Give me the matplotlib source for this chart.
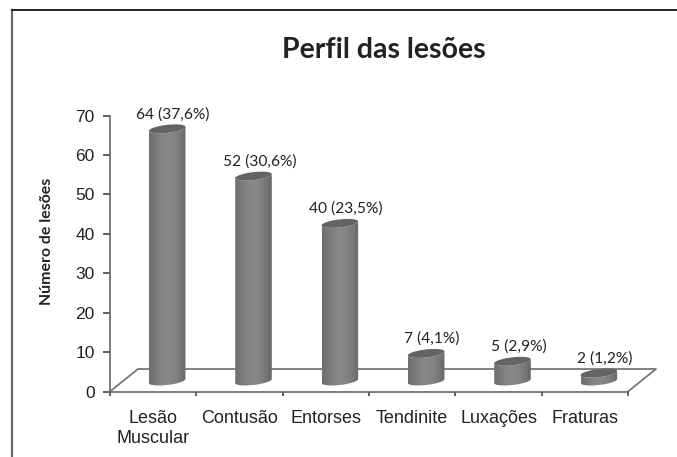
#!/usr/bin/env python
# -*- coding: utf-8 -*-

import numpy as np
import matplotlib
matplotlib.use('Agg')
import matplotlib.pyplot as plt
from matplotlib.patches import Polygon
from matplotlib.lines import Line2D

categorias = ['Lesão\nMuscular', 'Contusão', 'Entorses', 'Tendinite', 'Luxações', 'Fraturas']
lesoes = [64, 52, 40, 7, 5, 2]
rotulos = ['64 (37,6%)', '52 (30,6%)', '40 (23,5%)', '7 (4,1%)', '5 (2,9%)', '2 (1,2%)']
y_ticks = [0, 10, 20, 30, 40, 50, 60, 70]

W, H = 677, 457
fig = plt.figure(figsize=(W / 100, H / 100), dpi=100)
ax = fig.add_axes([110 / W, 1 - 391.5 / H, 518 / W, 275.8 / H])
ax.set_xlim(0, 6)
ax.set_ylim(0, 70)

# tamanho de um pixel em unidades de dados
px = 6 / 518
py = 70 / 275.8

# moldura da figura
fig.add_artist(Line2D([12 / W, 12 / W], [0, 1 - 10 / H], color='#666666', lw=1.6))
fig.add_artist(Line2D([12 / W, 1], [1 - 10 / H, 1 - 10 / H], color='#222222', lw=1.4))

# eixos
for s in ['top', 'right']:
    ax.spines[s].set_visible(False)
for s in ['left', 'bottom']:
    ax.spines[s].set_color('#666666')
    ax.spines[s].set_linewidth(1.2)
ax.set_yticks(y_ticks)
ax.set_xticks(range(7))
ax.set_xticklabels([])
ax.tick_params(axis='x', direction='out', length=3, width=1.2, color='#444444')
ax.tick_params(axis='y', direction='out', length=5, width=1.2, color='#444444',
               labelsize=12.5, labelcolor='#222222', pad=6)
for lab in ax.get_yticklabels():
    lab.set_family('Liberation Sans')

# piso em perspectiva
dx, dy = 28 * px, 22.5 * py
ax.plot([0, dx, 6 + dx, 6], [0, dy, dy, 0], color='#777777', lw=1.3, clip_on=False, zorder=1)

# cilindros
largura = 18.3 * px
alt = 4.0 * py
incl = 2.0 * py
base = 10.5 * py
t = np.linspace(0, 2 * np.pi, 120)
gradiente = np.array([[0.44, 0.47, 0.50, 0.52, 0.53, 0.52, 0.50, 0.47, 0.42]])

for i, v in enumerate(lesoes):
    cx = i + 0.5 + 14 * px
    y0 = base
    y1 = base + v * 3.94 * py
    # corpo: lado esquerdo, topo de frente, direita, base
    tt = np.linspace(np.pi, 2 * np.pi, 60)
    xb = cx + largura * np.cos(tt)
    yb = y0 + alt * np.sin(tt) + incl * np.cos(tt)
    xt = xb[::-1]
    yt = y1 + alt * np.sin(tt[::-1]) + incl * np.cos(tt[::-1])
    corpo = Polygon(np.column_stack([np.r_[xb, xt], np.r_[yb, yt]]), closed=True,
                    facecolor='none', edgecolor='none', zorder=3, clip_on=False)
    ax.add_patch(corpo)
    im = ax.imshow(gradiente, extent=[cx - largura, cx + largura, y0 - alt - incl, y1 + alt + incl],
                   cmap='gray', vmin=0, vmax=1, aspect='auto', interpolation='bilinear',
                   zorder=3, clip_on=True)
    im.set_clip_path(corpo)
    # tampa
    ax.add_patch(Polygon(np.column_stack([cx + largura * np.cos(t),
                                          y1 + alt * np.sin(t) + incl * np.cos(t)]),
                         closed=True, facecolor='#636467', edgecolor='none', zorder=4, clip_on=False))
    ax.text(cx + 6 * px, y1 + 7.5 * py, rotulos[i], ha='center', va='bottom',
            fontsize=11.2, family='Lato', color='#222222', zorder=5)
    # cada linha do rótulo separada, alinhada pela linha de base
    for n, linha in enumerate(categorias[i].split('\n')):
        ax.text(i + 0.5, (-31.5 - 20 * n) * py, linha, ha='center', va='baseline', fontsize=13,
                family='Liberation Sans', color='#222222', clip_on=False)

ax.set_xlim(0, 6)
ax.set_ylim(0, 70)

fig.text(384 / W, 1 - 49.5 / H, 'Perfil das lesões', ha='center', va='center',
         fontsize=20.5, fontweight='bold', family='Lato', color='#222222')
fig.text(47 / W, 1 - 241 / H, 'Número de lesões', ha='center', va='center', rotation=90,
         fontsize=11.4, fontweight='bold', family='Lato', color='#222222')

fig.savefig('out.png', dpi=100)
